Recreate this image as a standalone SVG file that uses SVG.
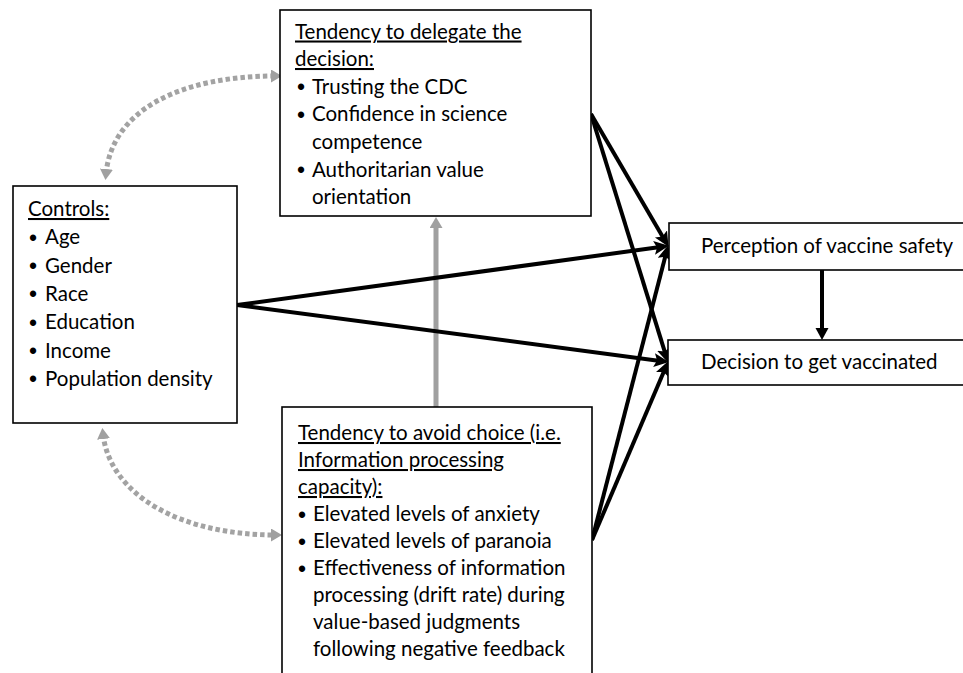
<svg xmlns="http://www.w3.org/2000/svg" width="963" height="673" viewBox="0 0 963 673">
<style>
.box{fill:#fff;stroke:#000;stroke-width:1.6}
.t{font-family:Lato,"Liberation Sans",sans-serif;font-size:20.5px;fill:#000}
.u{text-decoration:underline}
.b{font-family:"Liberation Sans",sans-serif;font-size:23px}
.blk{stroke:#000;stroke-width:4;fill:none}
.gry{stroke:#a0a0a0;stroke-width:5;fill:none}
.dot{stroke:#a3a3a3;stroke-width:5;fill:none;stroke-dasharray:4.5 3}
</style>
<defs>
<marker id="ah" markerUnits="userSpaceOnUse" markerWidth="20" markerHeight="20" refX="8" refY="7" orient="auto">
<path d="M0,0 L15,7 L0,14 L3,7 z" fill="#000"/>
</marker>
<marker id="ahv" markerUnits="userSpaceOnUse" markerWidth="20" markerHeight="20" refX="6" refY="6.5" orient="auto">
<path d="M0,0 L12,6.5 L0,13 z" fill="#000"/>
</marker>
<marker id="gh" markerUnits="userSpaceOnUse" markerWidth="20" markerHeight="20" refX="5" refY="6.5" orient="auto-start-reverse">
<path d="M0,0 L11,6.5 L0,13 z" fill="#a0a0a0"/>
</marker>
</defs>

<g id="connectors">
<path class="dot" d="M106 174 C112 110,180 76,276 76" marker-start="url(#gh)" marker-end="url(#gh)"/>
<path class="dot" d="M103 434 C110 495,180 535,276 535" marker-start="url(#gh)" marker-end="url(#gh)"/>
<line class="gry" x1="436" y1="407" x2="436" y2="223" marker-end="url(#gh)"/>
<line class="blk" x1="237" y1="305" x2="662" y2="246.8" marker-end="url(#ah)"/>
<line class="blk" x1="237" y1="305" x2="662" y2="361.2" marker-end="url(#ah)"/>
<line class="blk" x1="591" y1="114" x2="665" y2="240.8" marker-end="url(#ah)"/>
<line class="blk" x1="591" y1="114" x2="666.2" y2="356.3" marker-end="url(#ah)"/>
<line class="blk" x1="592" y1="540" x2="666.5" y2="251.8" marker-end="url(#ah)"/>
<line class="blk" x1="592" y1="540" x2="665.6" y2="367.5" marker-end="url(#ah)"/>
<line class="blk" x1="822" y1="270" x2="822" y2="334" marker-end="url(#ahv)"/>
</g>

<g id="delegate">
<rect class="box" x="280" y="10" width="311" height="206"/>
<text class="t u" x="295" y="38.5">Tendency to delegate the</text>
<text class="t u" x="295" y="66">decision:</text>
<text class="t" y="93.7"><tspan class="b" x="297" dy="1.5">•</tspan><tspan x="312" dy="-1.5">Trusting the CDC</tspan></text>
<text class="t" y="121.3"><tspan class="b" x="297" dy="1.5">•</tspan><tspan x="312" dy="-1.5">Confidence in science</tspan></text>
<text class="t" x="312" y="149">competence</text>
<text class="t" y="176.5"><tspan class="b" x="297" dy="1.5">•</tspan><tspan x="312" dy="-1.5">Authoritarian value</tspan></text>
<text class="t" x="312" y="204">orientation</text>
</g>

<g id="controls">
<rect class="box" x="13" y="186" width="224" height="237"/>
<text class="t u" x="28" y="216">Controls:</text>
<text class="t" y="244.3"><tspan class="b" x="29" dy="1.5">•</tspan><tspan x="45" dy="-1.5">Age</tspan></text>
<text class="t" y="272.6"><tspan class="b" x="29" dy="1.5">•</tspan><tspan x="45" dy="-1.5">Gender</tspan></text>
<text class="t" y="300.9"><tspan class="b" x="29" dy="1.5">•</tspan><tspan x="45" dy="-1.5">Race</tspan></text>
<text class="t" y="329.2"><tspan class="b" x="29" dy="1.5">•</tspan><tspan x="45" dy="-1.5">Education</tspan></text>
<text class="t" y="357.5"><tspan class="b" x="29" dy="1.5">•</tspan><tspan x="45" dy="-1.5">Income</tspan></text>
<text class="t" y="385.8"><tspan class="b" x="29" dy="1.5">•</tspan><tspan x="45" dy="-1.5">Population density</tspan></text>
</g>

<g id="avoid">
<rect class="box" x="282" y="407" width="310" height="280"/>
<text class="t u" x="298" y="440">Tendency to avoid choice (i.e.</text>
<text class="t u" x="298" y="467">Information processing</text>
<text class="t u" x="298" y="494">capacity):</text>
<text class="t" y="521"><tspan class="b" x="298" dy="1.5">•</tspan><tspan x="313" dy="-1.5">Elevated levels of anxiety</tspan></text>
<text class="t" y="548"><tspan class="b" x="298" dy="1.5">•</tspan><tspan x="313" dy="-1.5">Elevated levels of paranoia</tspan></text>
<text class="t" y="575"><tspan class="b" x="298" dy="1.5">•</tspan><tspan x="313" dy="-1.5">Effectiveness of information</tspan></text>
<text class="t" x="313" y="602">processing (drift rate) during</text>
<text class="t" x="313" y="629">value-based judgments</text>
<text class="t" x="313" y="656">following negative feedback</text>
</g>

<g id="perception">
<rect class="box" x="669" y="223" width="310" height="47"/>
<text class="t" x="701" y="253">Perception of vaccine safety</text>
</g>

<g id="decision">
<rect class="box" x="668" y="340" width="310" height="45"/>
<text class="t" x="701" y="369">Decision to get vaccinated</text>
</g>
</svg>
